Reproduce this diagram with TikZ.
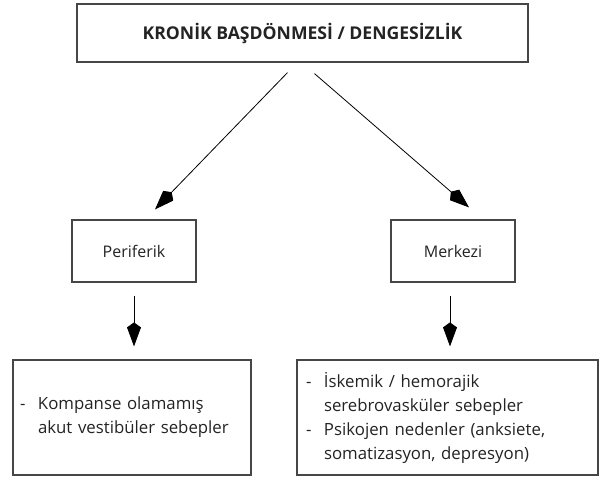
\documentclass[tikz,border=0pt]{standalone}
\usepackage{fontspec}
\setmainfont{Open Sans}
\usetikzlibrary{arrows.meta,positioning}
\definecolor{boxgray}{RGB}{70,70,70}
\definecolor{textgray}{RGB}{35,35,35}
\newcommand{\dashitem}{\makebox[18pt][l]{-}}
\newcommand{\dashindent}{\hspace*{18pt}}

\begin{document}
\begin{tikzpicture}[x=1pt,y=-1pt,
    box/.style={draw=boxgray,line width=1.2pt,text=textgray,font=\fontsize{16}{24}\selectfont},
    listbox/.style={box,align=left,minimum height=115pt,font=\fontsize{16.8}{24}\selectfont},
    arr/.style={-{Kite[length=24pt,width=14pt,inset=5pt]},line width=0.8pt}]
    \useasboundingbox (0,0) rectangle (607,477);

    % main complaint
    \node[box,minimum width=451pt,minimum height=58pt,font=\bfseries\fontsize{17.6}{20}\selectfont] (title) at (302.5,33) {KRONİK BAŞDÖNMESİ / DENGESİZLİK};

    % two groups
    \node[box,minimum width=124pt,minimum height=62pt] (peri) at (134,251) {Periferik};
    \node[box,minimum width=124pt,minimum height=62pt] (merk) at (453,251) {Merkezi};

    % causes
    \node[listbox,inner xsep=7pt,text width=224pt] (periText) at (132,417.5)
        {\dashitem Kompanse olamamış\\ \dashindent akut vestibüler sebepler};
    \node[listbox,inner xsep=9pt,text width=283pt] (merkText) at (447.5,417.5)
        {\dashitem İskemik / hemorajik\\ \dashindent serebrovasküler sebepler\\
         \dashitem Psikojen nedenler (anksiete,\\ \dashindent somatizasyon, depresyon)};

    % arrows
    \draw[arr] ([xshift=-15pt,yshift=-10pt]title.south) -- ([xshift=21pt,yshift=10pt]peri.north);
    \draw[arr] ([xshift=12pt,yshift=-11pt]title.south) -- ([xshift=16pt,yshift=12pt]merk.north);
    \draw[arr] ([yshift=-13pt]peri.south) -- ([yshift=13pt]peri.south |- periText.north);
    \draw[arr] ([xshift=-3pt,yshift=-13pt]merk.south) -- ([xshift=-3pt,yshift=13pt]merk.south |- merkText.north);
\end{tikzpicture}
\end{document}
